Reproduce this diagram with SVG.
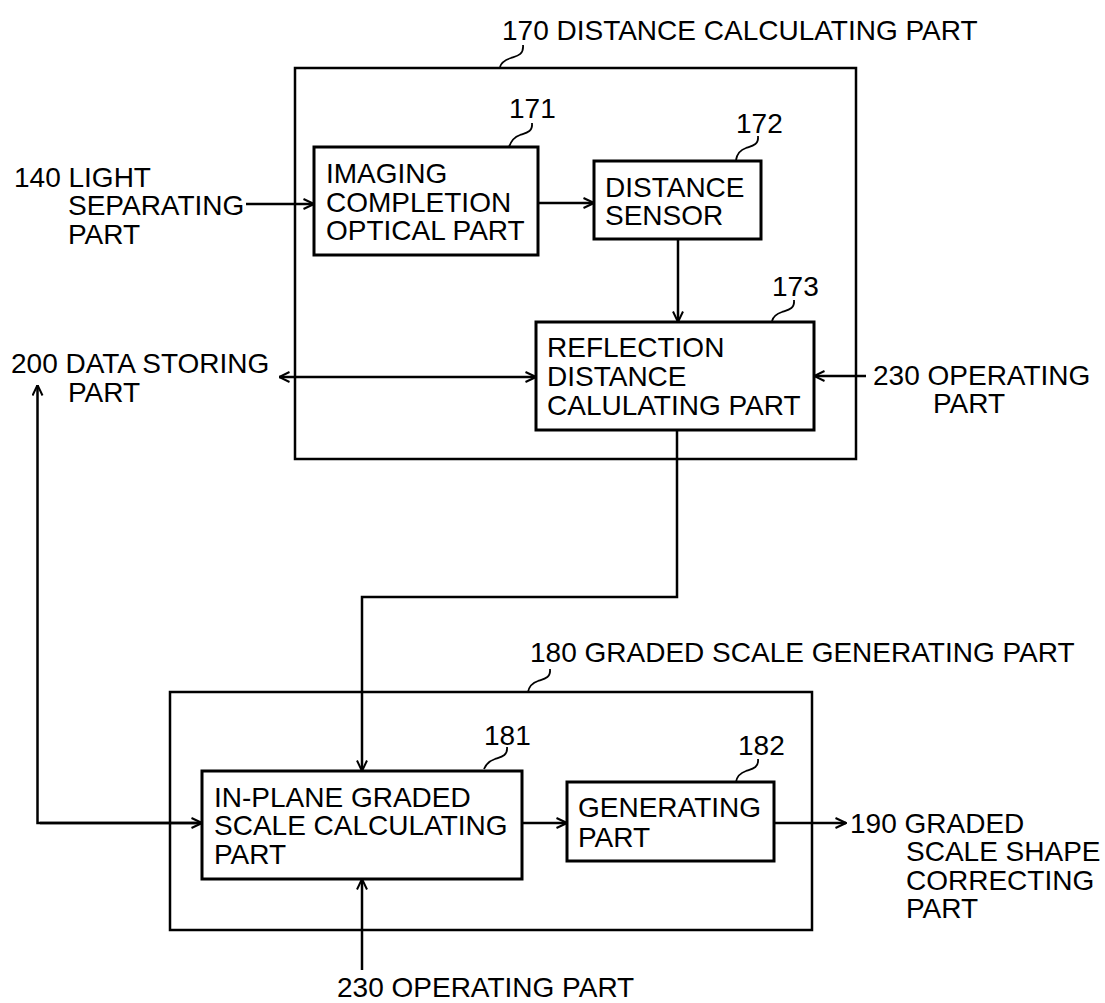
<svg xmlns="http://www.w3.org/2000/svg" width="1105" height="1003" viewBox="0 0 1105 1003">
<style>
text{font-family:"Liberation Sans",Arial,sans-serif;font-size:28px;fill:#000}
.outer{fill:none;stroke:#000;stroke-width:2.5}
.box{fill:#fff;stroke:#000;stroke-width:3}
.ln{fill:none;stroke:#000;stroke-width:2.5}
.lead{fill:none;stroke:#000;stroke-width:1.8}
</style>
<defs>
<marker id="ah" viewBox="0 0 12 12" refX="11.5" refY="6" markerWidth="12" markerHeight="12" markerUnits="userSpaceOnUse" orient="auto-start-reverse">
<path d="M1,1 L11.5,6 L1,11" fill="none" stroke="#000" stroke-width="2"/>
</marker>
</defs>
<rect width="1105" height="1003" fill="#fff"/>

<g id="n170">
<rect class="outer" x="295" y="68" width="561" height="391"/>
<path class="lead" d="M523,45 c1,10 -6,11 -12,13 c-6,2 -10,5 -11,9"/>
<text x="502" y="40">170 DISTANCE CALCULATING PART</text>
</g>

<g id="n180">
<rect class="outer" x="170" y="692" width="642" height="238"/>
<path class="lead" d="M550,669 c1,9 -6,10 -12,12 c-6,2 -9,6 -10,11"/>
<text x="530" y="662">180 GRADED SCALE GENERATING PART</text>
</g>

<g id="connectors">
<line class="ln" x1="246" y1="204" x2="314" y2="204" marker-end="url(#ah)"/>
<line class="ln" x1="538" y1="203" x2="594" y2="203" marker-end="url(#ah)"/>
<line class="ln" x1="678" y1="239" x2="678" y2="322" marker-end="url(#ah)"/>
<line class="ln" x1="279" y1="377" x2="536" y2="377" marker-start="url(#ah)" marker-end="url(#ah)"/>
<line class="ln" x1="866" y1="376" x2="814" y2="376" marker-end="url(#ah)"/>
<polyline class="ln" points="677,430 677,597 362,597 362,771" marker-end="url(#ah)"/>
<polyline class="ln" points="202,823 37.5,823 37.5,385" marker-end="url(#ah)"/>
<line class="ln" x1="40" y1="823" x2="202" y2="823" marker-end="url(#ah)"/>
<line class="ln" x1="522" y1="823" x2="567" y2="823" marker-end="url(#ah)"/>
<line class="ln" x1="774" y1="823" x2="846" y2="823" marker-end="url(#ah)"/>
<line class="ln" x1="362" y1="970" x2="362" y2="879" marker-end="url(#ah)"/>
</g>

<g id="n171">
<rect class="box" x="314" y="147" width="224" height="108"/>
<text x="326" y="183">IMAGING</text>
<text x="326" y="212">COMPLETION</text>
<text x="326" y="240">OPTICAL PART</text>
<path class="lead" d="M532,123 c1,9 -6,10 -12,12 c-6,2 -9,6 -11,12"/>
<text x="509" y="118">171</text>
</g>

<g id="n172">
<rect class="box" x="594" y="161" width="167" height="78"/>
<text x="605" y="197">DISTANCE</text>
<text x="605" y="225">SENSOR</text>
<path class="lead" d="M758,136 c1,9 -6,10 -12,12 c-6,2 -9,6 -10,12"/>
<text x="736" y="133">172</text>
</g>

<g id="n173">
<rect class="box" x="536" y="322" width="278" height="108"/>
<text x="547" y="357">REFLECTION</text>
<text x="547" y="386">DISTANCE</text>
<text x="547" y="415">CALULATING PART</text>
<path class="lead" d="M794,300 c1,9 -6,10 -12,12 c-6,2 -9,5 -10,9"/>
<text x="772" y="296">173</text>
</g>

<g id="n181">
<rect class="box" x="202" y="771" width="320" height="108"/>
<text x="214" y="807">IN-PLANE GRADED</text>
<text x="214" y="835">SCALE CALCULATING</text>
<text x="214" y="864">PART</text>
<path class="lead" d="M507,747 c1,9 -6,10 -12,12 c-6,2 -9,5 -11,10"/>
<text x="484" y="745">181</text>
</g>

<g id="n182">
<rect class="box" x="567" y="782" width="207" height="79"/>
<text x="578" y="817">GENERATING</text>
<text x="578" y="847">PART</text>
<path class="lead" d="M758,759 c1,9 -6,10 -12,12 c-6,2 -9,5 -10,11"/>
<text x="738" y="755">182</text>
</g>

<g id="n140">
<text x="14" y="187">140 LIGHT</text>
<text x="68" y="215">SEPARATING</text>
<text x="68" y="244">PART</text>
</g>

<g id="n200">
<text x="11" y="373">200 DATA STORING</text>
<text x="68" y="402">PART</text>
</g>

<g id="n230a">
<text x="873" y="385">230 OPERATING</text>
<text x="933" y="413">PART</text>
</g>

<g id="n190">
<text x="850" y="833">190 GRADED</text>
<text x="906" y="861">SCALE SHAPE</text>
<text x="906" y="890">CORRECTING</text>
<text x="906" y="918">PART</text>
</g>

<g id="n230b">
<text x="337" y="997">230 OPERATING PART</text>
</g>
</svg>
